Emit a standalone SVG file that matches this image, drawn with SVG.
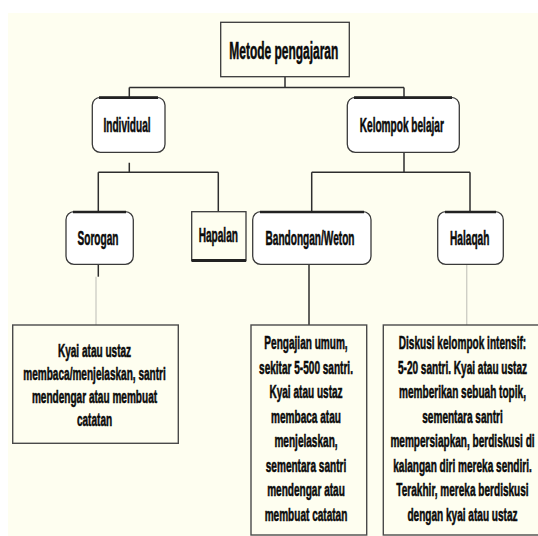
<svg xmlns="http://www.w3.org/2000/svg" width="538" height="536" viewBox="0 0 538 536">
<style>
.bg{fill:#FEFEF0}
.rnd{fill:#FFFFFF;stroke:#3a3a3a;stroke-width:1.3}
.sq{fill:#FEFEF0;stroke:#3a3a3a;stroke-width:1.3}
.desc{fill:#FEFEF0;stroke:#4a4a4a;stroke-width:1.4}
.topedge{fill:none;stroke:#222;stroke-width:2.6}
.con{fill:none;stroke:#2e2e2e;stroke-width:1.5}
.conl{fill:none;stroke:#cfcfc6;stroke-width:1.4}
text{font-family:"Liberation Sans",Arial,sans-serif;font-weight:bold;fill:#0a0a0a;stroke:#0a0a0a;stroke-width:0.55;text-anchor:middle}
.t0{font-size:23px}
.t1{font-size:20px}
.t2{font-size:17.5px}
</style>
<rect class="bg" x="8" y="13" width="530" height="523"/>
<g id="connectors">
<path class="con" d="M285 76.7V87.5M129.3 87.5H404M129.3 87.5V97.3M404 87.5V97.3"/>
<path class="con" d="M129.3 162.7V172.3M98.3 172.3H218.3M98.3 172.3V211.7M218.3 172.3V211.7"/>
<path class="con" d="M404 152.3V172.3M311.7 172.3H470M311.7 172.3V211.7M470 172.3V211.7"/>
<path class="con" d="M98.3 264.3V276.7"/>
<path class="conl" d="M96 276.7V325"/>
<path class="con" d="M309 264.3V325"/>
<path class="conl" d="M466.7 264.3V325"/>
</g>
<g id="metode">
<rect class="sq" x="220.7" y="22.3" width="128.6" height="54.4"/>
<text class="t0" transform="translate(283.8 58.5) scale(0.52 1)">Metode pengajaran</text>
</g>
<g id="individual">
<rect class="rnd" x="92.3" y="97.3" width="72.7" height="55" rx="8"/>
<path class="topedge" d="M99 97.6H158"/>
<text class="t1" transform="translate(127 132.3) scale(0.505 1)">Individual</text>
</g>
<g id="kelompok">
<rect class="rnd" x="347.3" y="97.3" width="112" height="55" rx="8"/>
<path class="topedge" d="M354 97.6H452"/>
<text class="t1" transform="translate(401.8 132.3) scale(0.505 1)">Kelompok belajar</text>
</g>
<g id="sorogan">
<rect class="rnd" x="66" y="211.7" width="67.3" height="52.6" rx="8"/>
<path class="topedge" d="M73 212H126"/>
<text class="t1" transform="translate(98 245) scale(0.505 1)">Sorogan</text>
</g>
<g id="hapalan">
<rect class="sq" x="191.7" y="211.7" width="54.3" height="49"/>
<path class="topedge" d="M191.7 260.4H246" style="stroke-width:3"/>
<text class="t1" transform="translate(218.3 241.7) scale(0.505 1)">Hapalan</text>
</g>
<g id="bandongan">
<rect class="rnd" x="252.7" y="211.7" width="118.3" height="52.6" rx="8"/>
<path class="topedge" d="M260 212H364"/>
<text class="t1" transform="translate(310 245) scale(0.505 1)">Bandongan/Weton</text>
</g>
<g id="halaqah">
<rect class="rnd" x="437.7" y="211.7" width="65.6" height="52.6" rx="8"/>
<path class="topedge" d="M445 212H496"/>
<text class="t1" transform="translate(469.7 245) scale(0.505 1)">Halaqah</text>
</g>
<g id="sorogan-desc">
<rect class="desc" x="12.7" y="325" width="165.6" height="118.3"/>
<text class="t2" transform="translate(94.5 357) scale(0.575 1)">Kyai atau ustaz</text>
<text class="t2" transform="translate(94.5 380) scale(0.575 1)">membaca/menjelaskan, santri</text>
<text class="t2" transform="translate(94.5 403) scale(0.575 1)">mendengar atau membuat</text>
<text class="t2" transform="translate(94.5 426) scale(0.575 1)">catatan</text>
</g>
<g id="bandongan-desc">
<rect class="desc" x="251" y="325" width="115.7" height="210"/>
<text class="t2" transform="translate(306 349) scale(0.575 1)">Pengajian umum,</text>
<text class="t2" transform="translate(306 373.5) scale(0.575 1)">sekitar 5-500 santri.</text>
<text class="t2" transform="translate(306 398) scale(0.575 1)">Kyai atau ustaz</text>
<text class="t2" transform="translate(306 422.5) scale(0.575 1)">membaca atau</text>
<text class="t2" transform="translate(306 447) scale(0.575 1)">menjelaskan,</text>
<text class="t2" transform="translate(306 471.5) scale(0.575 1)">sementara santri</text>
<text class="t2" transform="translate(306 496) scale(0.575 1)">mendengar atau</text>
<text class="t2" transform="translate(306 520.5) scale(0.575 1)">membuat catatan</text>
</g>
<g id="halaqah-desc">
<rect class="desc" x="383.3" y="325" width="160" height="210"/>
<text class="t2" transform="translate(462.5 349) scale(0.575 1)">Diskusi kelompok intensif:</text>
<text class="t2" transform="translate(462.5 373.5) scale(0.575 1)">5-20 santri. Kyai atau ustaz</text>
<text class="t2" transform="translate(462.5 398) scale(0.575 1)">memberikan sebuah topik,</text>
<text class="t2" transform="translate(462.5 422.5) scale(0.575 1)">sementara santri</text>
<text class="t2" transform="translate(462.5 447) scale(0.575 1)">mempersiapkan, berdiskusi di</text>
<text class="t2" transform="translate(462.5 471.5) scale(0.575 1)">kalangan diri mereka sendiri.</text>
<text class="t2" transform="translate(462.5 496) scale(0.575 1)">Terakhir, mereka berdiskusi</text>
<text class="t2" transform="translate(462.5 520.5) scale(0.575 1)">dengan kyai atau ustaz</text>
</g>
</svg>
